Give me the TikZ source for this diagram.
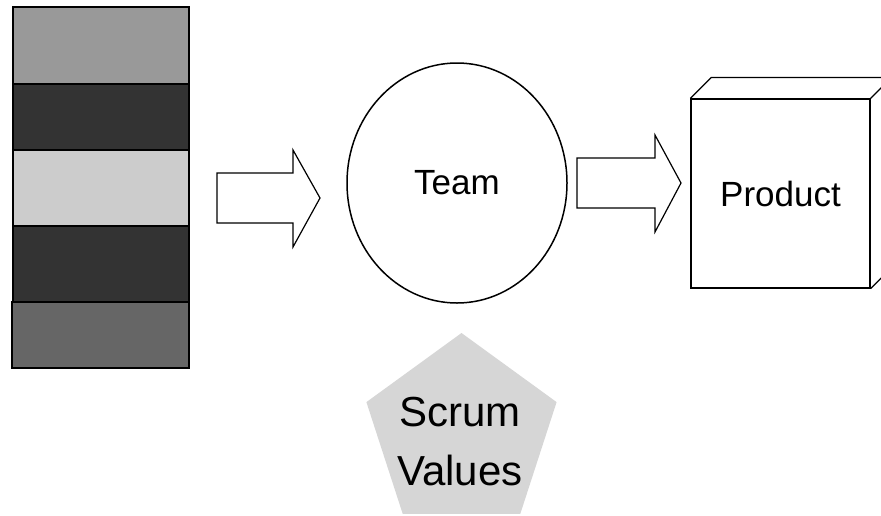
\documentclass[tikz,border=0pt]{standalone}
\usepackage{fontspec}
\setmainfont{Liberation Sans}
\usetikzlibrary{shapes.geometric}

\tikzset{
  band/.style={draw=black,line width=1.3pt},
  fatarrow/.style={draw=black,fill=white,line width=1.2pt,line join=miter},
  bigtext/.style={font=\fontsize{35}{42}\selectfont},
}

\begin{document}
\begin{tikzpicture}[x=1pt,y=-1pt]
\useasboundingbox (0,0) rectangle (881,515);
\clip (0,0) rectangle (881,515);

% backlog stack
\draw[band,fill=black!40] (13,7) rectangle (189,84);
\draw[band,fill=black!80] (13,84) rectangle (189,150);
\draw[band,fill=black!20] (13,150) rectangle (189,226);
\draw[band,fill=black!80] (13,226) rectangle (189,302);
\draw[band,fill=black!60] (12,302) rectangle (189,368);

% block arrows
\draw[fatarrow] (217,173) -- (293,173) -- (293,150) -- (320,198) -- (293,247) -- (293,223) -- (217,223) -- cycle;
\draw[fatarrow] (577,158) -- (655,158) -- (655,135) -- (681,183) -- (655,232) -- (655,208) -- (577,208) -- cycle;

\node[ellipse,draw,line width=1.5pt,minimum width=220pt,minimum height=240pt,bigtext] (team) at (457,183) {Team};

% product box
\node[draw,line width=1.2pt,minimum width=179pt,minimum height=189pt,inner sep=0pt,bigtext] (product) at (780.5,193.5) {Product};
\draw[line width=1.2pt] (product.north west) -- ++(21,-21) -- ++(200,0);
\draw[line width=1.2pt] (product.north east) -- ++(21,-21) -- ++(0,189);
\draw[line width=1.2pt] (product.south east) -- ++(21,-21);

% values
\node[regular polygon,regular polygon sides=5,minimum size=200pt,inner sep=0pt,fill=black!16] (values) at (461.5,433) {};
\node[align=center,font=\fontsize{42}{59}\selectfont] (valuestext) at (460,441.5) {Scrum\\Values};

\end{tikzpicture}
\end{document}
